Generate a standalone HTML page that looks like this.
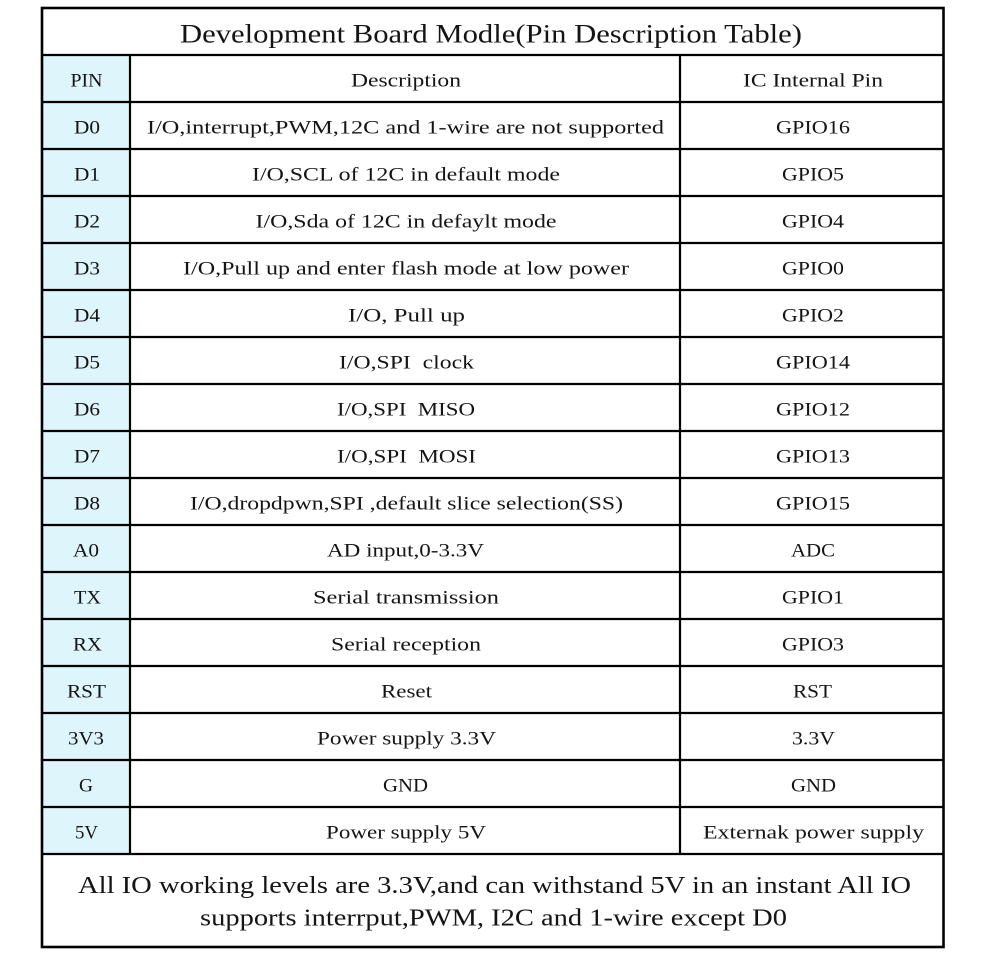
<!DOCTYPE html>
<html>
<head>
<meta charset="utf-8">
<style>
  html,body{margin:0;padding:0;background:#fff;}
  body{width:1000px;height:969px;overflow:hidden;}
  svg{display:block;}
  text{font-family:"Liberation Serif","DejaVu Serif",serif;fill:#141414;white-space:pre;}
  .c{font-size:19px;}
</style>
</head>
<body>
<svg width="1000" height="969" viewBox="0 0 1000 969" xmlns="http://www.w3.org/2000/svg">
  <rect x="0" y="0" width="1000" height="969" fill="#ffffff"/>
  <!-- PIN column background -->
  <rect x="43" y="56" width="87" height="797" fill="#def6fb"/>

  <!-- grid lines -->
  <g stroke="#000" stroke-width="2.2" fill="none">
    <line x1="42" y1="55" x2="944" y2="55"/>
    <line x1="42" y1="102" x2="944" y2="102"/>
    <line x1="42" y1="149" x2="944" y2="149"/>
    <line x1="42" y1="196" x2="944" y2="196"/>
    <line x1="42" y1="243" x2="944" y2="243"/>
    <line x1="42" y1="290" x2="944" y2="290"/>
    <line x1="42" y1="337" x2="944" y2="337"/>
    <line x1="42" y1="384" x2="944" y2="384"/>
    <line x1="42" y1="431" x2="944" y2="431"/>
    <line x1="42" y1="478" x2="944" y2="478"/>
    <line x1="42" y1="525" x2="944" y2="525"/>
    <line x1="42" y1="572" x2="944" y2="572"/>
    <line x1="42" y1="619" x2="944" y2="619"/>
    <line x1="42" y1="666" x2="944" y2="666"/>
    <line x1="42" y1="713" x2="944" y2="713"/>
    <line x1="42" y1="760" x2="944" y2="760"/>
    <line x1="42" y1="807" x2="944" y2="807"/>
    <line x1="42" y1="854" x2="944" y2="854"/>
    <line x1="130" y1="55" x2="130" y2="854"/>
    <line x1="680" y1="55" x2="680" y2="854"/>
  </g>
  <rect x="42" y="8" width="901.5" height="939" fill="none" stroke="#000" stroke-width="2.6"/>

  <!-- title -->
  <text x="491" y="42.5" text-anchor="middle" font-size="26" textLength="622" lengthAdjust="spacingAndGlyphs">Development Board Modle(Pin Description Table)</text>

  <!-- header -->
  <text class="c" x="86.5" y="86.5" text-anchor="middle" textLength="32" lengthAdjust="spacingAndGlyphs">PIN</text>
  <text class="c" x="406" y="86.5" text-anchor="middle" textLength="110" lengthAdjust="spacingAndGlyphs">Description</text>
  <text class="c" x="813" y="86.5" text-anchor="middle" textLength="140" lengthAdjust="spacingAndGlyphs">IC Internal Pin</text>

  <!-- D0 -->
  <text class="c" x="87" y="133.5" text-anchor="middle" textLength="26" lengthAdjust="spacingAndGlyphs">D0</text>
  <text class="c" x="405.5" y="133.5" text-anchor="middle" textLength="517" lengthAdjust="spacingAndGlyphs">I/O,interrupt,PWM,12C and 1-wire are not supported</text>
  <text class="c" x="813" y="133.5" text-anchor="middle" textLength="74" lengthAdjust="spacingAndGlyphs">GPIO16</text>
  <!-- D1 -->
  <text class="c" x="87" y="180.5" text-anchor="middle" textLength="26" lengthAdjust="spacingAndGlyphs">D1</text>
  <text class="c" x="406" y="180.5" text-anchor="middle" textLength="308" lengthAdjust="spacingAndGlyphs">I/O,SCL of 12C in default mode</text>
  <text class="c" x="813" y="180.5" text-anchor="middle" textLength="62" lengthAdjust="spacingAndGlyphs">GPIO5</text>
  <!-- D2 -->
  <text class="c" x="87" y="227.5" text-anchor="middle" textLength="26" lengthAdjust="spacingAndGlyphs">D2</text>
  <text class="c" x="406" y="227.5" text-anchor="middle" textLength="301" lengthAdjust="spacingAndGlyphs">I/O,Sda of 12C in defaylt mode</text>
  <text class="c" x="813" y="227.5" text-anchor="middle" textLength="62" lengthAdjust="spacingAndGlyphs">GPIO4</text>
  <!-- D3 -->
  <text class="c" x="87" y="274.5" text-anchor="middle" textLength="26" lengthAdjust="spacingAndGlyphs">D3</text>
  <text class="c" x="406" y="274.5" text-anchor="middle" textLength="446" lengthAdjust="spacingAndGlyphs">I/O,Pull up and enter flash mode at low power</text>
  <text class="c" x="813" y="274.5" text-anchor="middle" textLength="62" lengthAdjust="spacingAndGlyphs">GPIO0</text>
  <!-- D4 -->
  <text class="c" x="87" y="321.5" text-anchor="middle" textLength="26" lengthAdjust="spacingAndGlyphs">D4</text>
  <text class="c" x="406.5" y="321.5" text-anchor="middle" textLength="117" lengthAdjust="spacingAndGlyphs">I/O, Pull up</text>
  <text class="c" x="813" y="321.5" text-anchor="middle" textLength="62" lengthAdjust="spacingAndGlyphs">GPIO2</text>
  <!-- D5 -->
  <text class="c" x="87" y="368.5" text-anchor="middle" textLength="26" lengthAdjust="spacingAndGlyphs">D5</text>
  <text class="c" x="406.5" y="368.5" text-anchor="middle" textLength="135" lengthAdjust="spacingAndGlyphs">I/O,SPI  clock</text>
  <text class="c" x="813" y="368.5" text-anchor="middle" textLength="74" lengthAdjust="spacingAndGlyphs">GPIO14</text>
  <!-- D6 -->
  <text class="c" x="87" y="415.5" text-anchor="middle" textLength="26" lengthAdjust="spacingAndGlyphs">D6</text>
  <text class="c" x="406" y="415.5" text-anchor="middle" textLength="138" lengthAdjust="spacingAndGlyphs">I/O,SPI  MISO</text>
  <text class="c" x="813" y="415.5" text-anchor="middle" textLength="74" lengthAdjust="spacingAndGlyphs">GPIO12</text>
  <!-- D7 -->
  <text class="c" x="87" y="462.5" text-anchor="middle" textLength="26" lengthAdjust="spacingAndGlyphs">D7</text>
  <text class="c" x="406.5" y="462.5" text-anchor="middle" textLength="139" lengthAdjust="spacingAndGlyphs">I/O,SPI  MOSI</text>
  <text class="c" x="813" y="462.5" text-anchor="middle" textLength="74" lengthAdjust="spacingAndGlyphs">GPIO13</text>
  <!-- D8 -->
  <text class="c" x="87" y="509.5" text-anchor="middle" textLength="26" lengthAdjust="spacingAndGlyphs">D8</text>
  <text class="c" x="406.5" y="509.5" text-anchor="middle" textLength="433" lengthAdjust="spacingAndGlyphs">I/O,dropdpwn,SPI ,default slice selection(SS)</text>
  <text class="c" x="813" y="509.5" text-anchor="middle" textLength="74" lengthAdjust="spacingAndGlyphs">GPIO15</text>
  <!-- A0 -->
  <text class="c" x="86" y="556.5" text-anchor="middle" textLength="26" lengthAdjust="spacingAndGlyphs">A0</text>
  <text class="c" x="405.5" y="556.5" text-anchor="middle" textLength="157" lengthAdjust="spacingAndGlyphs">AD input,0-3.3V</text>
  <text class="c" x="813" y="556.5" text-anchor="middle" textLength="44" lengthAdjust="spacingAndGlyphs">ADC</text>
  <!-- TX -->
  <text class="c" x="87.5" y="603.5" text-anchor="middle" textLength="27" lengthAdjust="spacingAndGlyphs">TX</text>
  <text class="c" x="406" y="603.5" text-anchor="middle" textLength="186" lengthAdjust="spacingAndGlyphs">Serial transmission</text>
  <text class="c" x="813" y="603.5" text-anchor="middle" textLength="62" lengthAdjust="spacingAndGlyphs">GPIO1</text>
  <!-- RX -->
  <text class="c" x="87.5" y="650.5" text-anchor="middle" textLength="29" lengthAdjust="spacingAndGlyphs">RX</text>
  <text class="c" x="406" y="650.5" text-anchor="middle" textLength="150" lengthAdjust="spacingAndGlyphs">Serial reception</text>
  <text class="c" x="813" y="650.5" text-anchor="middle" textLength="62" lengthAdjust="spacingAndGlyphs">GPIO3</text>
  <!-- RST -->
  <text class="c" x="86.5" y="697.5" text-anchor="middle" textLength="39" lengthAdjust="spacingAndGlyphs">RST</text>
  <text class="c" x="406.5" y="697.5" text-anchor="middle" textLength="51" lengthAdjust="spacingAndGlyphs">Reset</text>
  <text class="c" x="812.5" y="697.5" text-anchor="middle" textLength="39" lengthAdjust="spacingAndGlyphs">RST</text>
  <!-- 3V3 -->
  <text class="c" x="86" y="744.5" text-anchor="middle" textLength="36" lengthAdjust="spacingAndGlyphs">3V3</text>
  <text class="c" x="406.5" y="744.5" text-anchor="middle" textLength="179" lengthAdjust="spacingAndGlyphs">Power supply 3.3V</text>
  <text class="c" x="813.5" y="744.5" text-anchor="middle" textLength="43" lengthAdjust="spacingAndGlyphs">3.3V</text>
  <!-- G -->
  <text class="c" x="86" y="791.5" text-anchor="middle" textLength="14" lengthAdjust="spacingAndGlyphs">G</text>
  <text class="c" x="405.5" y="791.5" text-anchor="middle" textLength="45" lengthAdjust="spacingAndGlyphs">GND</text>
  <text class="c" x="813.5" y="791.5" text-anchor="middle" textLength="45" lengthAdjust="spacingAndGlyphs">GND</text>
  <!-- 5V -->
  <text class="c" x="86.5" y="838.5" text-anchor="middle" textLength="23" lengthAdjust="spacingAndGlyphs">5V</text>
  <text class="c" x="406" y="838.5" text-anchor="middle" textLength="160" lengthAdjust="spacingAndGlyphs">Power supply 5V</text>
  <text class="c" x="813.5" y="838.5" text-anchor="middle" textLength="221" lengthAdjust="spacingAndGlyphs">Externak power supply</text>

  <!-- footer -->
  <text x="494.5" y="893" text-anchor="middle" font-size="24" textLength="833" lengthAdjust="spacingAndGlyphs">All IO working levels are 3.3V,and can withstand 5V in an instant All IO</text>
  <text x="493.5" y="925.5" text-anchor="middle" font-size="24" textLength="587" lengthAdjust="spacingAndGlyphs">supports interrput,PWM, I2C and 1-wire except D0</text>
</svg>
</body>
</html>
